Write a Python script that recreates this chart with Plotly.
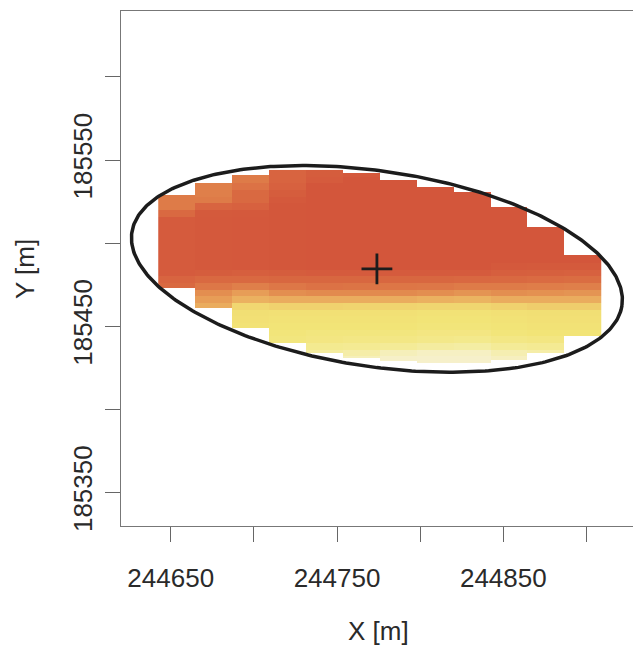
import numpy as np
import plotly.graph_objects as go

# --- raster grid geometry (metres) ---
col_left = 244642.5      # easting of the first column's left edge
col_width = 22.2         # column width
row_top = 185544.0       # northing of the first row's top edge
row_height = 4.0         # row height

# northing extent of every raster column inside the ellipse
col_top = [185529, 185536, 185541, 185544, 185544, 185542,
           185538, 185534, 185531, 185522, 185510, 185493]
col_bottom = [185473, 185461, 185449, 185440, 185434, 185431,
              185429, 185428, 185428, 185430, 185434, 185444]

# estimated surface, one list per column, top row first (29 rows of 4 m)
N = None
col_values = [
    [N, N, N, 3, 3, 3, 2, 0.6, 0.5, 0.5, 0.5, 0.5, 0.5, 0.5, 0.5, 0.5, 1.5, 2,
     N, N, N, N, N, N, N, N, N, N, N],
    [N, N, 3.2, 3.2, 3, 1.5, 0.4, 0.3, 0.3, 0.3, 0.3, 0.3, 0.3, 0.3, 0.3, 0.8, 2, 2.8,
     4, 4.5, 5, N, N, N, N, N, N, N, N],
    [3, 3, 2.5, 2, 2, 1.2, 0.3, 0.2, 0.2, 0.2, 0.2, 0.2, 0.2, 0.2, 0.2, 1, 2, 3.2,
     4.5, 5.2, 6.8, 7.2, 7.3, 7.4, N, N, N, N, N],
    [1.5, 1.5, 1.2, 0.8, 0.3, 0.1, 0.1, 0.1, 0.1, 0.1, 0.1, 0.1, 0.1, 0.1, 0.1, 0.8, 1.8, 2.8,
     4, 5, 6.5, 7.3, 7.4, 7.5, 7.6, 7.7, N, N, N],
    [0.8, 0.5, 0, 0, 0, 0, 0, 0, 0, 0, 0, 0, 0, 0, 0, 0.5, 1.8, 2.5,
     3.8, 5, 6.5, 7.3, 7.4, 7.5, 7.7, 7.8, 8.2, 8.6, N],
    [0.3, 0, 0, 0, 0, 0, 0, 0, 0, 0, 0, 0, 0, 0, 0, 0.5, 1.8, 2.6,
     3.8, 5, 6.6, 7.3, 7.4, 7.5, 7.7, 7.9, 8.3, 8.8, 9.2],
    [N, 0, 0, 0, 0, 0, 0, 0, 0, 0, 0, 0, 0, 0, 0, 0.6, 1.8, 2.7,
     3.8, 5, 6.6, 7.3, 7.4, 7.5, 7.7, 7.9, 8.4, 9.2, 9.5],
    [N, N, 0, 0, 0, 0, 0, 0, 0, 0, 0, 0, 0, 0, 0, 0.6, 1.8, 2.8,
     4, 5.2, 6.7, 7.4, 7.5, 7.6, 7.8, 8.0, 8.6, 9.4, 9.6],
    [N, N, N, 0, 0, 0, 0, 0, 0, 0, 0, 0, 0, 0, 0, 0.6, 1.9, 3,
     4.2, 5.3, 6.7, 7.4, 7.5, 7.6, 7.8, 8.1, 8.7, 9.4, 9.6],
    [N, N, N, N, N, 0, 0, 0, 0, 0, 0, 0, 0, 0, 0.3, 1.0, 2.0, 3.0,
     4.0, 5.0, 6.5, 7.3, 7.4, 7.5, 7.6, 7.9, 8.4, 9.0, 9.3],
    [N, N, N, N, N, N, N, N, 0, 0, 0, 0, 0, 0, 0.4, 1.1, 2.1, 3.1,
     4.1, 5.0, 6.3, 7.2, 7.3, 7.4, 7.5, 7.8, 8.3, 8.8, N],
    [N, N, N, N, N, N, N, N, N, N, N, N, 0, 0, 0.4, 1.2, 2.2, 3.2,
     4.2, 5.0, 6.3, 7.2, 7.3, 7.4, 7.5, N, N, N, N],
]

# confidence ellipse and its centre
ell_cx, ell_cy = 244774.0, 185484.5
ell_a, ell_b = 149.0, 58.8
ell_angle_deg = -8.5

# axis ticks
x_tickvals = [244650, 244700, 244750, 244800, 244850, 244900]
x_ticktext = ["244650", "", "244750", "", "244850", ""]
y_tickvals = [185350, 185400, 185450, 185500, 185550, 185600]
y_ticktext = ["185350", "", "185450", "", "185550", ""]

heat_scale = [
    [0.00, "#D3563B"], [0.10, "#D65F3E"], [0.20, "#D96941"], [0.30, "#DE7B48"],
    [0.40, "#E38E50"], [0.50, "#EAAC5E"], [0.65, "#F0D26E"], [0.75, "#F2E477"],
    [0.85, "#F4EC9A"], [0.95, "#F6F0C8"], [1.00, "#F7F2D4"],
]

# --- build a 1 m row raster so each column is cut at its own extent ---
n_cols = len(col_values)
n_rows = len(col_values[0])
x_edges = col_left + col_width * np.arange(n_cols + 1)
y_bottom = min(col_bottom)
y_edges = np.arange(y_bottom, row_top + 0.5, 1.0)
y_centres = (y_edges[:-1] + y_edges[1:]) / 2

z = []
for yc in y_centres:
    k = int((row_top - yc) // row_height)
    line = []
    for i in range(n_cols):
        v = None
        if 0 <= k < n_rows and col_bottom[i] <= yc <= col_top[i]:
            v = col_values[i][k]
        line.append(v)
    z.append(line)

fig = go.Figure()
fig.add_trace(go.Heatmap(
    x=x_edges, y=y_edges, z=z, zmin=0, zmax=10,
    colorscale=heat_scale, showscale=False, hoverinfo="skip",
))

t = np.linspace(0, 2 * np.pi, 400)
phi = np.deg2rad(ell_angle_deg)
ex = ell_cx + ell_a * np.cos(t) * np.cos(phi) - ell_b * np.sin(t) * np.sin(phi)
ey = ell_cy + ell_a * np.cos(t) * np.sin(phi) + ell_b * np.sin(t) * np.cos(phi)
fig.add_trace(go.Scatter(x=ex, y=ey, mode="lines",
                         line=dict(color="#1c1c1c", width=3.5),
                         hoverinfo="skip", showlegend=False))
fig.add_trace(go.Scatter(x=[ell_cx], y=[ell_cy], mode="markers",
                         marker=dict(symbol="cross-thin", size=22,
                                     line=dict(color="#1c1c1c", width=2.8)),
                         hoverinfo="skip", showlegend=False))

font = dict(family="Liberation Sans, Arial, sans-serif", size=26, color="#2a2a2a")

fig.update_layout(
    width=633, height=646, autosize=False,
    margin=dict(l=121, r=0, t=11, b=120, pad=0),
    paper_bgcolor="white", plot_bgcolor="white",
    showlegend=False, font=font,
    xaxis=dict(range=[244620.1, 244928.0], tickmode="array",
               tickvals=x_tickvals, ticktext=x_ticktext,
               ticks="outside", ticklen=15, tickwidth=1, tickcolor="#666",
               showline=True, linecolor="#777", linewidth=1, mirror=True,
               showgrid=False, zeroline=False, ticklabelstandoff=14,
               tickfont=font),
    yaxis=dict(range=[185329.9, 185639.6], tickmode="array",
               tickvals=y_tickvals, ticktext=y_ticktext, tickangle=-90,
               ticks="outside", ticklen=15, tickwidth=1, tickcolor="#666",
               showline=True, linecolor="#777", linewidth=1, mirror=False,
               showgrid=False, zeroline=False, ticklabelstandoff=3,
               tickfont=font),
    annotations=[
        dict(text="X [m]", xref="paper", yref="paper", x=0.502, y=-0.204,
             xanchor="center", yanchor="middle", showarrow=False, font=font),
        dict(text="Y [m]", xref="paper", yref="paper", x=-0.1885, y=0.5,
             xanchor="center", yanchor="middle", showarrow=False,
             textangle=-90, font=font),
    ],
)

fig.write_html("out.html")
